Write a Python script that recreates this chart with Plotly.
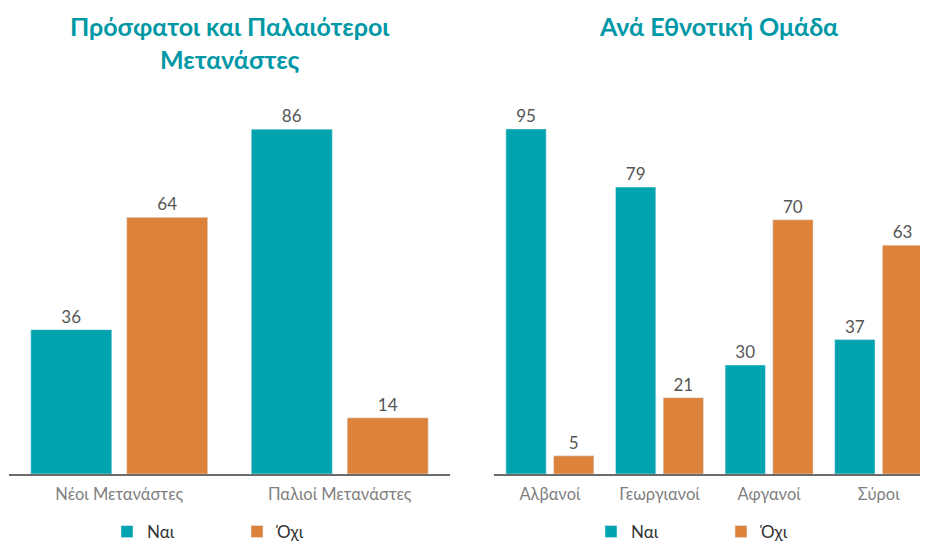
import plotly.graph_objects as go

# Data
cats_left = ["Νέοι Μετανάστες", "Παλιοί Μετανάστες"]
yes_left = [36, 86]
no_left = [64, 14]

cats_right = ["Αλβανοί", "Γεωργιανοί", "Αφγανοί", "Σύροι"]
yes_right = [95, 79, 30, 37]
no_right = [5, 21, 70, 63]

title_left = "Πρόσφατοι και Παλαιότεροι<br>Μετανάστες"
title_right = "Ανά Εθνοτική Ομάδα"
series_names = ["Ναι", "Όχι"]

TEAL = "#00A3AE"
ORANGE = "#DC823B"
FONT = "Lato"
# page has an 8px body margin; figure is sized to fill the rest of the 928x542 window
OFF = 8
W, H = 928 - OFF, 542 - OFF


def px(x):
    return (x - OFF) / W


def py(y):
    return (H - (y - OFF)) / H


fig = go.Figure()
lbl = dict(textposition="outside", textfont=dict(color="#555555", size=17, family=FONT), cliponaxis=False)

fig.add_trace(go.Bar(x=cats_left, y=yes_left, name=series_names[0], marker_color=TEAL,
                     text=yes_left, xaxis="x", yaxis="y", legend="legend", **lbl))
fig.add_trace(go.Bar(x=cats_left, y=no_left, name=series_names[1], marker_color=ORANGE,
                     text=no_left, xaxis="x", yaxis="y", legend="legend", **lbl))
fig.add_trace(go.Bar(x=cats_right, y=yes_right, name=series_names[0], marker_color=TEAL,
                     text=yes_right, xaxis="x2", yaxis="y2", legend="legend2", **lbl))
fig.add_trace(go.Bar(x=cats_right, y=no_right, name=series_names[1], marker_color=ORANGE,
                     text=no_right, xaxis="x2", yaxis="y2", legend="legend2", **lbl))

xax = dict(showline=True, linecolor="#6b6b6b", linewidth=1.5, ticks="", showgrid=False,
           automargin=False, ticklabelstandoff=4,
           tickfont=dict(color="#7f7f7f", size=16.5, family=FONT), fixedrange=True)
yax = dict(visible=False, showgrid=False, zeroline=False, fixedrange=True, automargin=False)

leg = dict(orientation="h", font=dict(color="#333333", size=17, family=FONT),
           entrywidth=85, entrywidthmode="pixels", yanchor="middle", xanchor="left",
           bgcolor="rgba(0,0,0,0)", itemclick=False, borderwidth=0)

fig.update_layout(
    width=W, height=H, margin=dict(l=0, r=0, t=0, b=0, pad=0, autoexpand=False),
    paper_bgcolor="white", plot_bgcolor="white",
    barmode="group", bargap=0.13, bargroupgap=0.155,
    font=dict(family=FONT),
    xaxis=dict(domain=[px(9), px(450)], range=[-0.5, 1.5], anchor="y", **xax),
    yaxis=dict(domain=[py(474), py(100)], range=[0, 374 / 4.01], anchor="x", **yax),
    xaxis2=dict(domain=[px(494), 1], range=[-0.51, 3.45], anchor="y2", **xax),
    yaxis2=dict(domain=[py(474), py(100)], range=[0, 374 / 3.632], anchor="x2", **yax),
    legend=dict(x=px(107), y=py(532), **leg),
    legend2=dict(x=px(591), y=py(532), **leg),
    annotations=[
        dict(text="<b>" + title_left + "</b>", x=px(230), y=py(42), xref="paper", yref="paper",
             xanchor="center", yanchor="middle",
             showarrow=False, font=dict(color="#0098A6", size=25, family=FONT), align="center"),
        dict(text="<b>" + title_right + "</b>", x=px(718), y=py(26), xref="paper", yref="paper",
             xanchor="center", yanchor="middle",
             showarrow=False, font=dict(color="#0098A6", size=25, family=FONT), align="center"),
    ],
)

fig.write_html("out.html")
